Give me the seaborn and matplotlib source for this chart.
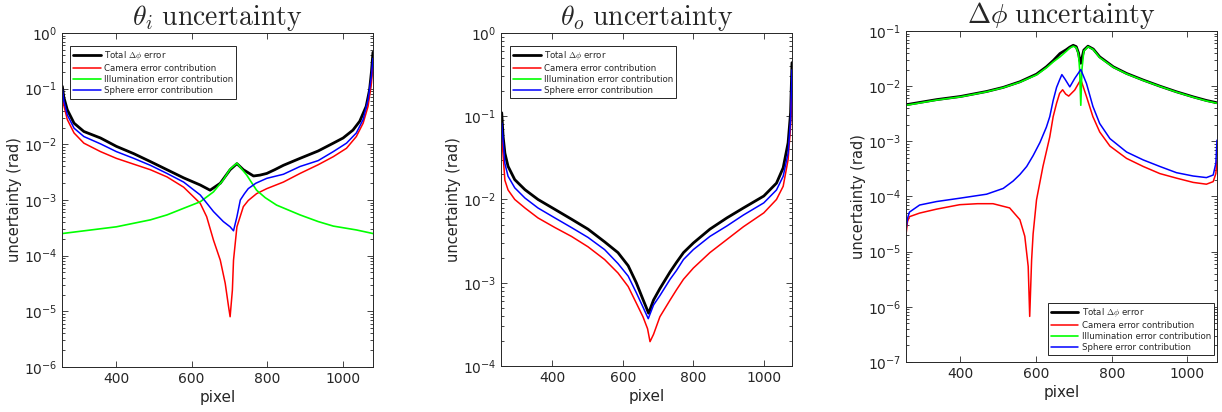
import matplotlib
matplotlib.use("Agg")
import matplotlib.pyplot as plt
import seaborn as sns

# ---- digitised curves (pixel, uncertainty in rad) ----
# theta_i panel
TI_TOTAL_X = [258, 262, 271, 289, 315, 359, 401, 447, 491, 535, 579, 623, 649, 676, 702, 720, 737,
              764, 781, 799, 820, 843, 887, 935, 975, 1001, 1027, 1045, 1062, 1071, 1076, 1080]
TI_TOTAL_Y = [0.11, 0.07, 0.042, 0.024, 0.017, 0.013, 0.0092, 0.0068, 0.0049, 0.0035, 0.0025, 0.00186,
              0.0015, 0.002, 0.0035, 0.0045, 0.0035, 0.0027, 0.0028, 0.003, 0.0035, 0.0042, 0.0056,
              0.0076, 0.0105, 0.013, 0.018, 0.026, 0.048, 0.095, 0.2, 0.45]
TI_CAM_X = [258, 262, 271, 289, 315, 359, 401, 447, 491, 535, 579, 623, 640, 658, 676, 689, 698, 702,
            708, 711, 720, 737, 750, 772, 799, 843, 887, 935, 975, 1010, 1036, 1054, 1067, 1076, 1080]
TI_CAM_Y = [0.08, 0.05, 0.028, 0.016, 0.0105, 0.0074, 0.0056, 0.0044, 0.0035, 0.0026, 0.0017, 0.00087,
            0.0005, 0.00019, 8.3e-5, 3.2e-5, 1.2e-5, 8e-6, 2.4e-5, 8.3e-5, 0.00033, 0.00076, 0.00098,
            0.0013, 0.0016, 0.0021, 0.003, 0.0043, 0.006, 0.0085, 0.0138, 0.024, 0.048, 0.126, 0.3]
TI_ILL_X = [258, 401, 491, 535, 579, 623, 658, 684, 702, 720, 746, 760, 772, 795, 825, 887, 935, 975,
            1036, 1080]
TI_ILL_Y = [0.00025, 0.00033, 0.00044, 0.00054, 0.00071, 0.00093, 0.0014, 0.0023, 0.0036, 0.0046,
            0.0028, 0.002, 0.0015, 0.0011, 0.00081, 0.00054, 0.00041, 0.00034, 0.00029, 0.00025]
TI_SPH_X = [258, 262, 271, 289, 315, 359, 401, 447, 491, 535, 579, 623, 658, 684, 702, 711, 720, 729,
            740, 750, 770, 799, 843, 887, 935, 975, 1010, 1036, 1054, 1067, 1076, 1080]
TI_SPH_Y = [0.1, 0.06, 0.034, 0.0195, 0.0138, 0.0102, 0.0074, 0.0056, 0.0042, 0.003, 0.0021, 0.00123,
            0.00062, 0.00041, 0.00033, 0.00028, 0.0005, 0.001, 0.0013, 0.0016, 0.002, 0.00245, 0.0029,
            0.004, 0.0051, 0.0074, 0.0105, 0.016, 0.028, 0.063, 0.17, 0.35]

# theta_o panel (no illumination contribution visible)
TO_TOTAL_X = [256, 260, 265, 274, 293, 322, 359, 407, 454, 501, 548, 586, 615, 638, 657, 673, 687,
              705, 734, 752, 772, 800, 847, 895, 942, 1000, 1036, 1055, 1069, 1076, 1080]
TO_TOTAL_Y = [0.11, 0.057, 0.036, 0.025, 0.0173, 0.0131, 0.01, 0.0076, 0.0058, 0.0044, 0.0031, 0.0023,
              0.0016, 0.001, 0.00063, 0.00043, 0.00062, 0.00085, 0.00135, 0.00175, 0.0023, 0.003,
              0.0044, 0.006, 0.0079, 0.011, 0.0157, 0.024, 0.048, 0.11, 0.44]
TO_CAM_X = [256, 265, 274, 293, 322, 359, 407, 454, 501, 548, 586, 615, 638, 657, 670, 677, 687, 705,
            734, 752, 772, 800, 847, 895, 942, 1000, 1036, 1055, 1069, 1076, 1080]
TO_CAM_Y = [0.057, 0.017, 0.013, 0.01, 0.0079, 0.006, 0.0046, 0.0036, 0.0027, 0.0019, 0.00131, 0.0009,
            0.00057, 0.00039, 0.00028, 0.000196, 0.00024, 0.00039, 0.00062, 0.00082, 0.0011, 0.0015,
            0.0023, 0.0033, 0.0047, 0.0069, 0.01, 0.0144, 0.03, 0.075, 0.25]
TO_ILL_X = []
TO_ILL_Y = []
TO_SPH_X = [256, 265, 274, 293, 322, 359, 407, 454, 501, 548, 586, 615, 638, 657, 672, 687, 705, 734,
            752, 772, 800, 847, 895, 942, 1000, 1036, 1055, 1069, 1076, 1080]
TO_SPH_Y = [0.083, 0.027, 0.019, 0.0138, 0.0104, 0.0079, 0.006, 0.0046, 0.0035, 0.0025, 0.0017, 0.0012,
            0.00076, 0.00051, 0.00037, 0.00054, 0.0007, 0.0011, 0.0014, 0.0019, 0.0025, 0.0036, 0.0048,
            0.0065, 0.0091, 0.013, 0.019, 0.036, 0.09, 0.36]

# delta phi panel
DP_TOTAL_X = [256, 337, 400, 469, 513, 557, 601, 627, 645, 663, 680, 689, 698, 706, 712, 715, 718, 721,
              726, 737, 751, 768, 804, 839, 883, 927, 971, 1015, 1050, 1078]
DP_TOTAL_Y = [0.0046, 0.0057, 0.0065, 0.008, 0.0095, 0.012, 0.0165, 0.0224, 0.029, 0.039, 0.046, 0.051,
              0.055, 0.052, 0.04, 0.03, 0.026, 0.032, 0.045, 0.053, 0.047, 0.034, 0.0224, 0.017, 0.0129,
              0.01, 0.0079, 0.0064, 0.0055, 0.005]
DP_ILL_X = DP_TOTAL_X
DP_ILL_Y = [0.0045, 0.0056, 0.0064, 0.0079, 0.0094, 0.0118, 0.016, 0.0215, 0.0275, 0.034, 0.043, 0.049,
            0.053, 0.05, 0.038, 0.02, 0.0045, 0.02, 0.043, 0.052, 0.046, 0.033, 0.022, 0.0167, 0.0127,
            0.0099, 0.0078, 0.0063, 0.0054, 0.0049]
DP_CAM_X = [256, 260, 265, 292, 337, 398, 445, 486, 530, 557, 570, 579, 583, 588, 592, 601, 618, 636,
            645, 654, 662, 670, 678, 686, 702, 718, 733, 750, 768, 795, 839, 883, 927, 971, 1015, 1050,
            1068, 1075, 1078]
DP_CAM_Y = [2e-5, 3.5e-5, 4.3e-5, 5e-5, 5.9e-5, 7.1e-5, 7.4e-5, 7.4e-5, 6.2e-5, 3.8e-5, 1.9e-5, 5.4e-6,
            6.7e-7, 7e-6, 2.1e-5, 8.7e-5, 0.00035, 0.0012, 0.0028, 0.0049, 0.0074, 0.0086, 0.0072,
            0.0066, 0.0085, 0.0132, 0.0065, 0.0028, 0.00148, 0.00082, 0.00049, 0.00035, 0.00026,
            0.000215, 0.00018, 0.000167, 0.000186, 0.00026, 0.00046]
DP_SPH_X = [256, 260, 265, 292, 337, 398, 469, 513, 539, 557, 575, 592, 610, 627, 636, 645, 654, 662,
            668, 676, 689, 702, 718, 733, 750, 768, 795, 839, 883, 927, 971, 1015, 1050, 1068, 1075,
            1078]
DP_SPH_Y = [2.5e-5, 4e-5, 5.2e-5, 7e-5, 8.1e-5, 9.3e-5, 0.00011, 0.00014, 0.00019, 0.00025, 0.00035,
            0.00055, 0.00095, 0.0018, 0.0028, 0.0055, 0.0095, 0.013, 0.0162, 0.0135, 0.0097, 0.0138,
            0.02, 0.0112, 0.0043, 0.0021, 0.00112, 0.00064, 0.00046, 0.00035, 0.00027, 0.000235,
            0.00022, 0.000245, 0.0004, 0.00105]

LABELS = ["Total $\\Delta\\phi$ error", "Camera error contribution",
          "Illumination error contribution", "Sphere error contribution"]
TITLES = ["$\\theta_i\\ \\mathrm{uncertainty}$", "$\\theta_o\\ \\mathrm{uncertainty}$",
          "$\\Delta\\phi\\ \\mathrm{uncertainty}$"]
XTICKS = [400, 600, 800, 1000]
YTICKS = [[1e-6, 1e-5, 1e-4, 1e-3, 1e-2, 1e-1, 1e0],
          [1e-4, 1e-3, 1e-2, 1e-1, 1e0],
          [1e-7, 1e-6, 1e-5, 1e-4, 1e-3, 1e-2, 1e-1]]

sns.set_style("ticks")
plt.rcParams["font.family"] = ["DejaVu Sans"]
plt.rcParams["mathtext.fontset"] = "cm"

COLORS = ["black", "#ff0000", "#00ff00", "#0000ff"]
WIDTHS = [2.0, 1.1, 1.2, 1.1]
INK = "#262626"

fig = plt.figure(figsize=(12.22, 4.12), dpi=100)
rects = [[0.0507, 0.1092, 0.2545, 0.8107],
         [0.4100, 0.1117, 0.2381, 0.8083],
         [0.7414, 0.1214, 0.2545, 0.8034]]
xlims = [(257, 1080), (254, 1080), (256, 1078)]
panels = [
    [(TI_TOTAL_X, TI_TOTAL_Y), (TI_CAM_X, TI_CAM_Y), (TI_ILL_X, TI_ILL_Y), (TI_SPH_X, TI_SPH_Y)],
    [(TO_TOTAL_X, TO_TOTAL_Y), (TO_CAM_X, TO_CAM_Y), (TO_ILL_X, TO_ILL_Y), (TO_SPH_X, TO_SPH_Y)],
    [(DP_TOTAL_X, DP_TOTAL_Y), (DP_CAM_X, DP_CAM_Y), (DP_ILL_X, DP_ILL_Y), (DP_SPH_X, DP_SPH_Y)],
]
legend_pos = [("upper left", (0.026, 0.961)), ("upper left", (0.031, 0.962)),
              ("lower right", (0.99, 0.021))]

for k, rect in enumerate(rects):
    ax = fig.add_axes(rect)
    for (xs, ys), c, lw, lab in zip(panels[k], COLORS, WIDTHS, LABELS):
        if len(xs) == 0:
            # no visible illumination term on this panel, legend entry only
            ax.plot([], [], color=c, lw=lw, label=lab)
            continue
        sns.lineplot(x=xs, y=ys, ax=ax, color=c, lw=lw, label=lab,
                     sort=False, estimator=None)
    ax.set_yscale("log")
    ax.set_yticks(YTICKS[k])
    ax.set_xlim(*xlims[k])
    ax.set_ylim(YTICKS[k][0], YTICKS[k][-1])
    ax.set_xticks(XTICKS)
    ax.set_xlabel("pixel", fontsize=11, color=INK, labelpad=3)
    ax.set_ylabel("uncertainty (rad)", fontsize=10.5, color=INK, labelpad=1)
    ax.set_title(TITLES[k], fontsize=20, pad=4)
    ax.tick_params(which="both", direction="in", top=True, right=True,
                   colors=INK, labelsize=10, width=0.6)
    ax.tick_params(which="major", length=4)
    ax.tick_params(which="minor", length=2)
    for s in ax.spines.values():
        s.set_color(INK)
        s.set_linewidth(0.7)
    loc, anchor = legend_pos[k]
    leg = ax.legend(loc=loc, bbox_to_anchor=anchor, borderaxespad=0, fontsize=6.2,
                    frameon=True, fancybox=False, edgecolor=INK, framealpha=1,
                    handlelength=3.2, handletextpad=0.4, labelspacing=0.25,
                    borderpad=0.35)
    leg.get_frame().set_linewidth(0.7)

fig.savefig("out.png", dpi=100)
